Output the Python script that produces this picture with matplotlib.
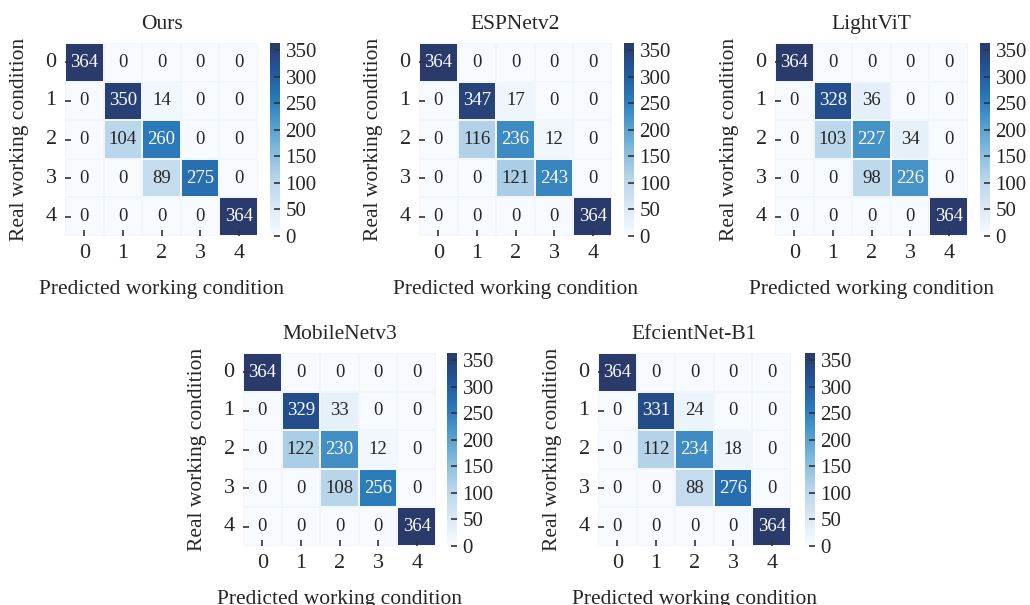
import matplotlib
matplotlib.use("Agg")
import matplotlib.pyplot as plt
from matplotlib.colors import LinearSegmentedColormap
import numpy as np
import seaborn as sns

TITLES = ["Ours", "ESPNetv2", "LightViT", "MobileNetv3", "EfcientNet-B1"]
CLASSES = ["0", "1", "2", "3", "4"]

ours = [[364, 0, 0, 0, 0],
        [0, 350, 14, 0, 0],
        [0, 104, 260, 0, 0],
        [0, 0, 89, 275, 0],
        [0, 0, 0, 0, 364]]
espnet = [[364, 0, 0, 0, 0],
          [0, 347, 17, 0, 0],
          [0, 116, 236, 12, 0],
          [0, 0, 121, 243, 0],
          [0, 0, 0, 0, 364]]
lightvit = [[364, 0, 0, 0, 0],
            [0, 328, 36, 0, 0],
            [0, 103, 227, 34, 0],
            [0, 0, 98, 226, 0],
            [0, 0, 0, 0, 364]]
mobilenet = [[364, 0, 0, 0, 0],
             [0, 329, 33, 0, 0],
             [0, 122, 230, 12, 0],
             [0, 0, 108, 256, 0],
             [0, 0, 0, 0, 364]]
efficientnet = [[364, 0, 0, 0, 0],
                [0, 331, 24, 0, 0],
                [0, 112, 234, 18, 0],
                [0, 0, 88, 276, 0],
                [0, 0, 0, 0, 364]]
MATRICES = [ours, espnet, lightvit, mobilenet, efficientnet]

sns.set_style("ticks")
plt.rcParams["font.family"] = ["Liberation Serif", "DejaVu Serif"]

# Blues, but the dark end is a greyer navy like the source figure
blues = plt.get_cmap("Blues")
stops = [(p, blues(p)) for p in (0.0, 0.15, 0.3, 0.45, 0.6, 0.72)]
stops += [(0.86, "#22569a"), (1.0, "#293a6b")]
CMAP = LinearSegmentedColormap.from_list("navyblues", stops)

W, H = 1030, 605
fig = plt.figure(figsize=(W / 100, H / 100), dpi=100)

# (heatmap left, top, colorbar left) in pixels
PANELS = [(65, 43, 270), (419, 43, 624), (775, 43, 980),
          (243, 353, 447), (598, 353, 805)]
SIZE = 193

for title, mat, (x0, y0, cx) in zip(TITLES, MATRICES, PANELS):
    ax = fig.add_axes([x0 / W, 1 - (y0 + SIZE) / H, SIZE / W, SIZE / H])
    cax = fig.add_axes([cx / W, 1 - (y0 + SIZE) / H, 10 / W, SIZE / H])
    sns.heatmap(np.array(mat), annot=True, fmt="d", cmap=CMAP, ax=ax,
                cbar_ax=cax, xticklabels=CLASSES, yticklabels=CLASSES,
                annot_kws={"fontsize": 13.5}, linewidths=0.3,
                linecolor="#f0f6fc")
    ax.set_axisbelow(False)
    cax.set_axisbelow(False)
    ax.set_title(title, fontsize=15.5, pad=10)
    ax.set_xlabel("Predicted working condition", fontsize=15.5, labelpad=12)
    ax.set_ylabel("Real working condition", fontsize=15.5, labelpad=12)
    ax.tick_params(labelsize=16, direction="in", length=4, width=1.2,
                   pad=6, color="#333333")
    ax.tick_params(axis="y", rotation=0)
    cax.tick_params(labelsize=15, direction="in", length=4, width=1.2,
                    pad=4, color="#333333")
    cax.set_yticks(range(0, 351, 50))
    for sp in cax.spines.values():
        sp.set_visible(False)

fig.savefig("out.png", dpi=100)
